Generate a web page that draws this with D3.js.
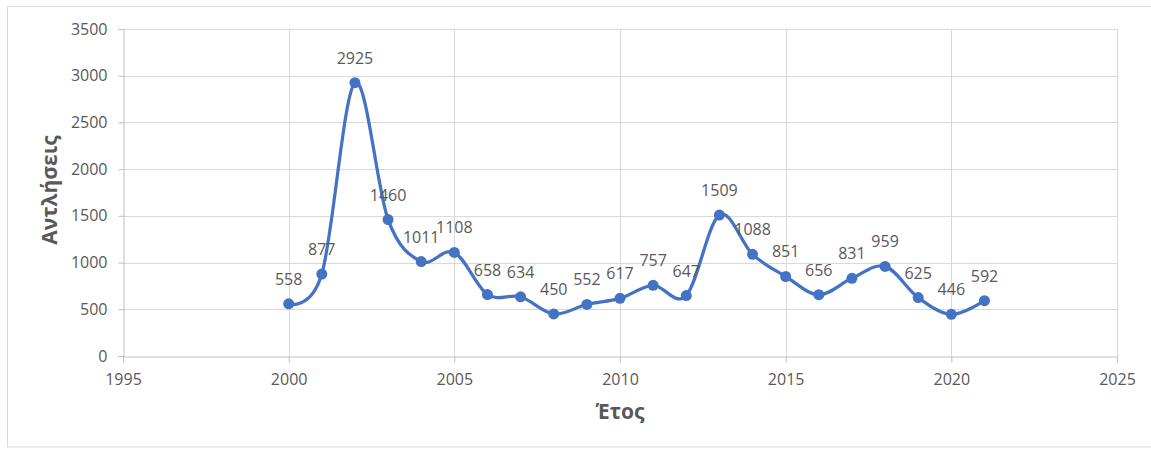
<!DOCTYPE html>
<html>
<head>
<meta charset="utf-8">
<script src="https://cdn.jsdelivr.net/npm/d3@7"></script>
<style>
  body { margin: 0; background: #fff; }
  svg text { font-family: "Open Sans", sans-serif; fill: #595959; }
</style>
</head>
<body>
<svg id="chart" width="1151" height="449"></svg>
<script>
// Data
const years = [2000, 2001, 2002, 2003, 2004, 2005, 2006, 2007, 2008, 2009, 2010,
               2011, 2012, 2013, 2014, 2015, 2016, 2017, 2018, 2019, 2020, 2021];
const pumpings = [558, 877, 2925, 1460, 1011, 1108, 658, 634, 450, 552, 617,
                  757, 647, 1509, 1088, 851, 656, 831, 959, 625, 446, 592];
const xTicks = [1995, 2000, 2005, 2010, 2015, 2020, 2025];
const yTicks = [0, 500, 1000, 1500, 2000, 2500, 3000, 3500];

let svg = d3.select('#chart');

// outer chart frame
svg.append('rect')
    .attr('x', 7.5).attr('y', 6.5)
    .attr('width', 1160).attr('height', 440.5)
    .attr('fill', 'none')
    .attr('stroke', '#d9d9d9');

let plotLeft = 123, plotRight = 1117, plotTop = 29, plotBottom = 356;

let x = d3.scaleLinear().domain([1995, 2025]).range([plotLeft, plotRight]);
let y = d3.scaleLinear().domain([0, 3500]).range([plotBottom, plotTop]);

// gridlines
svg.append('g')
    .selectAll('line')
    .data(yTicks.slice(1))
    .enter()
    .append('line')
    .attr('x1', plotLeft).attr('x2', plotRight)
    .attr('y1', d => Math.round(y(d)) + 0.5)
    .attr('y2', d => Math.round(y(d)) + 0.5)
    .attr('stroke', '#d9d9d9');

svg.append('g')
    .selectAll('line')
    .data(xTicks.slice(1))
    .enter()
    .append('line')
    .attr('y1', plotTop).attr('y2', plotBottom)
    .attr('x1', d => Math.round(x(d)) + 0.5)
    .attr('x2', d => Math.round(x(d)) + 0.5)
    .attr('stroke', '#d9d9d9');

// axes
let yAxis = svg.append('g')
    .attr('transform', `translate(${plotLeft + 0.5},0)`)
    .call(d3.axisLeft(y).tickValues(yTicks).tickFormat(d3.format('d')).tickSize(5).tickPadding(11));
let xAxis = svg.append('g')
    .attr('transform', `translate(0,${plotBottom + 0.5})`)
    .call(d3.axisBottom(x).tickValues(xTicks).tickFormat(d3.format('d')).tickSize(6).tickPadding(11));

[yAxis, xAxis].forEach(a => {
    a.selectAll('path, line').attr('stroke', '#bfbfbf');
    a.selectAll('text').attr('font-size', 16).attr('fill', '#595959')
        .style('font-family', '"Open Sans", sans-serif');
});

// axis titles
svg.append('text')
    .attr('x', 620).attr('y', 419)
    .attr('text-anchor', 'middle')
    .attr('font-size', 21).attr('font-weight', 'bold')
    .text('Έτος');

svg.append('text')
    .attr('transform', 'translate(57,190) rotate(-90)')
    .attr('text-anchor', 'middle')
    .attr('font-size', 21).attr('font-weight', 'bold')
    .text('Αντλήσεις');

// smoothed series line
let points = years.map((yr, i) => ({year: yr, value: pumpings[i]}));

let line = d3.line()
    .x(d => x(d.year))
    .y(d => y(d.value))
    .curve(d3.curveCardinal.tension(0));

svg.append('path')
    .datum(points)
    .attr('d', line)
    .attr('fill', 'none')
    .attr('stroke', '#4472c4')
    .attr('stroke-width', 3.25);

svg.append('g')
    .selectAll('circle')
    .data(points)
    .enter()
    .append('circle')
    .attr('cx', d => x(d.year))
    .attr('cy', d => y(d.value))
    .attr('r', 5.5)
    .attr('fill', '#4472c4');

// data labels
svg.append('g')
    .selectAll('text')
    .data(points)
    .enter()
    .append('text')
    .attr('x', d => x(d.year))
    .attr('y', d => y(d.value) - 19)
    .attr('text-anchor', 'middle')
    .attr('font-size', 16)
    .text(d => d.value);
</script>
</body>
</html>
